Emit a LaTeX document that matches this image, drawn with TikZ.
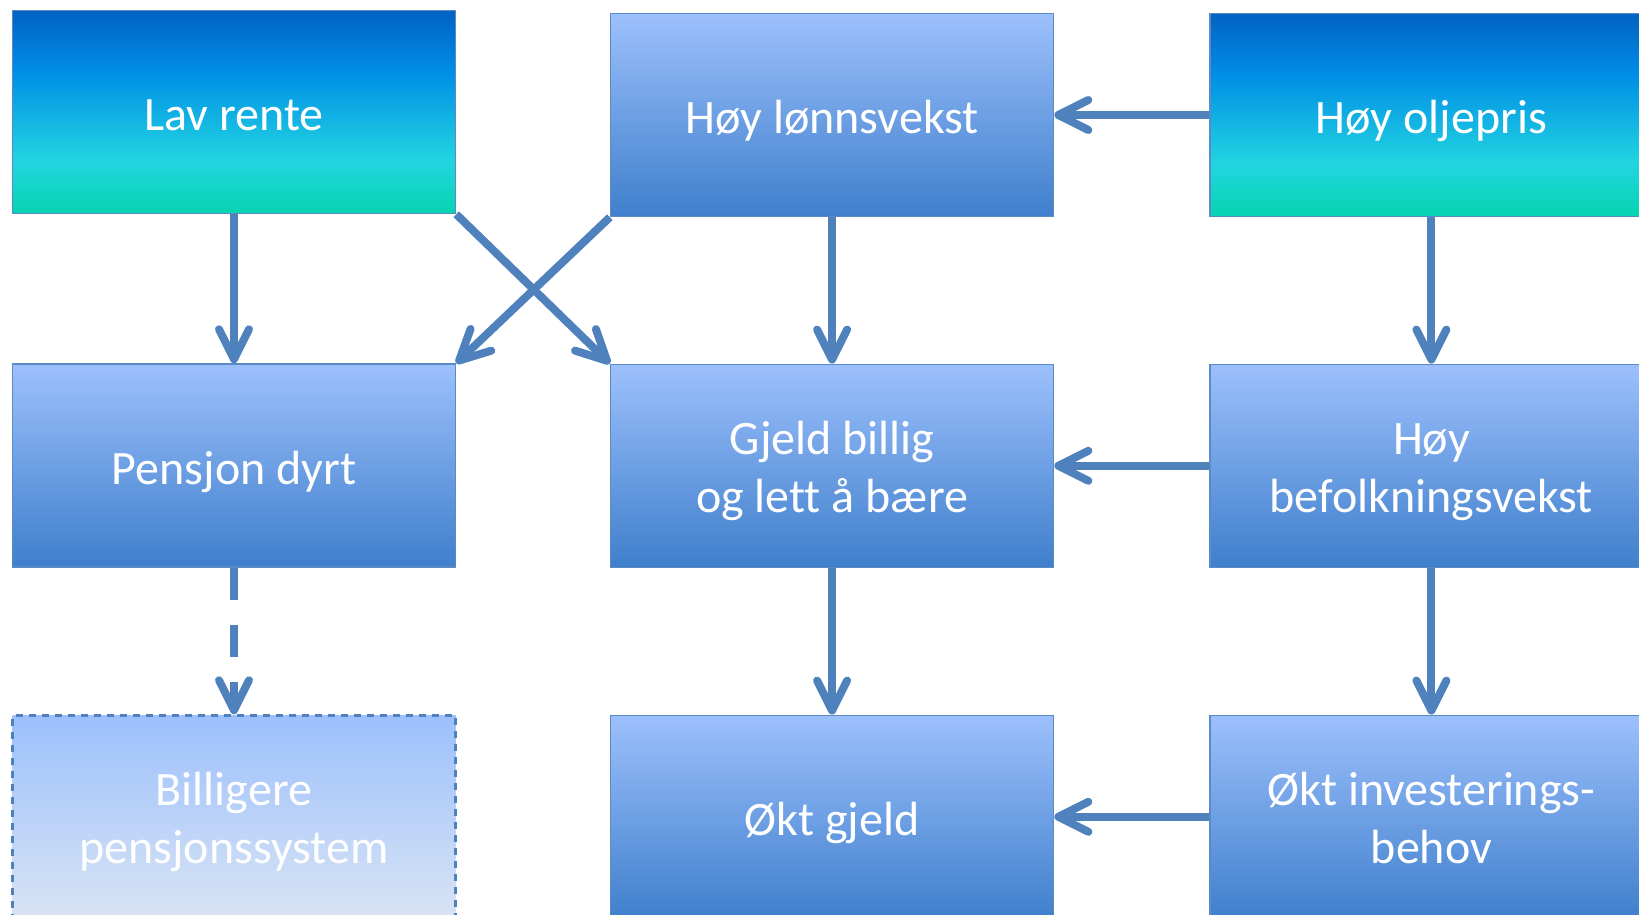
\documentclass[tikz,border=0pt]{standalone}
\usepackage{fontspec}
\setmainfont{Carlito}[Ligatures=NoCommon]
\usetikzlibrary{%
    shapes,%
    arrows.meta,%
    positioning,%
    calc%
}
\definecolor{arrowblue}{HTML}{4F81BD}
\definecolor{edgeblue}{HTML}{5A8AC8}
\definecolor{boxtop}{HTML}{9CC0FC}
\definecolor{boxbottom}{HTML}{3F7FCC}
\definecolor{palebottom}{HTML}{D9E4F4}
\definecolor{oiltop}{HTML}{0062C2}
\definecolor{oilblue}{HTML}{008EE6}
\definecolor{oilcyan}{HTML}{22D5E0}
\definecolor{oilbottom}{HTML}{06D4B0}
\pgfdeclareverticalshading{oilshade}{100bp}{color(0bp)=(oilbottom); color(25bp)=(oilbottom); color(38bp)=(oilcyan); color(60bp)=(oilblue); color(75bp)=(oiltop); color(100bp)=(oiltop)}
\tikzset{
    block/.style = {draw = edgeblue, line width = 1.5pt, rectangle, top color = boxtop,
    bottom color = boxbottom, minimum height = 203pt, minimum width = 443pt,
    text = white, font = \fontsize{48}{58}\selectfont, text height = 37pt, text depth = 0pt},
    twoline/.style = {text height = 93pt, text depth = 0pt},
    source/.style = {block, shading = oilshade},
    maybe/.style = {block, draw = arrowblue, line width = 2.8pt, dash pattern = on 7pt off 6pt,
    top color = boxtop, bottom color = palebottom},
    arr/.style = {draw = arrowblue, line width = 8pt, -{Straight Barb[length=30pt,width=30pt,round]}}
}
\begin{document}
\begin{tikzpicture}
    \useasboundingbox (0,0) rectangle (1639pt,-914pt);
    \node[align=center] (lavrente) [source] at (234pt,-112pt) {Lav rente};
    \node[align=center,right = 153.6pt of lavrente, yshift = -3pt] (lonn) [block] {Høy lønnsvekst};
    \node[align=center,right = 154.8pt of lonn] (olje) [source] {Høy oljepris};
    \node[align=center,below = 149pt of lavrente] (pensjon) [block] {Pensjon dyrt};
    \node[align=center,below = 146.3pt of lonn] (gjeld) [block, twoline] {Gjeld billig\\og lett å bære};
    \node[align=center,below = 146.3pt of olje] (befolk) [block, twoline] {Høy\\befolkningsvekst};
    \node[align=center,below = 146.5pt of pensjon] (billig) [maybe, twoline] {Billigere\\pensjonssystem};
    \node[align=center,below = 146.5pt of gjeld] (okt) [block] {Økt gjeld};
    \node[align=center,below = 146.5pt of befolk] (invest) [block, twoline] {Økt investerings-\\behov};
    \draw[arr] (lavrente) -- (pensjon);
    \draw[arr] (lavrente.south east) -- (gjeld.north west);
    \draw[arr] (lonn.south west) -- (pensjon.north east);
    \draw[arr] (lonn) -- (gjeld);
    \draw[arr] (olje) -- (lonn);
    \draw[arr] (olje) -- (befolk);
    \draw[arr] (befolk) -- (gjeld);
    \draw[arr] (befolk) -- (invest);
    \draw[arr] (gjeld) -- (okt);
    \draw[arr] (invest) -- (okt);
    \draw[arr, dash pattern = on 32pt off 25pt] (pensjon) -- (billig);
\end{tikzpicture}
\end{document}
